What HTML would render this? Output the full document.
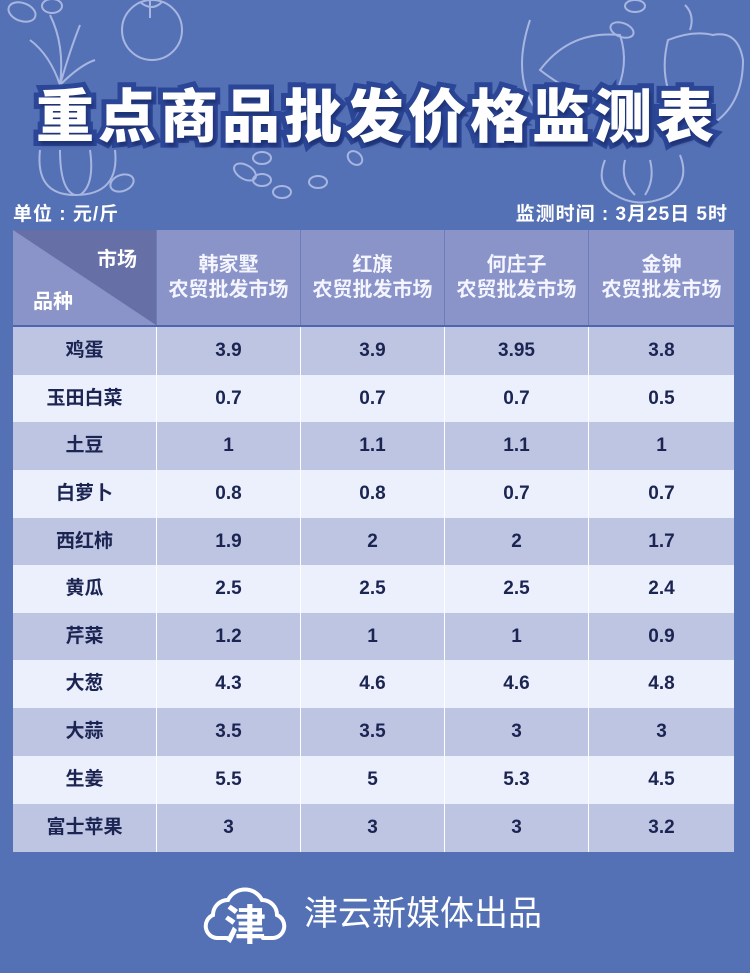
<!DOCTYPE html>
<html><head><meta charset="utf-8">
<style>
*{margin:0;padding:0;box-sizing:border-box}
html,body{width:750px;height:973px;overflow:hidden;background:#5571b6}
body{position:relative;font-family:"Liberation Sans","Noto Sans CJK SC",sans-serif}
.abs{position:absolute}
.title{position:absolute;left:0;top:85px;width:750px;text-align:center;font-size:58px;font-weight:900;letter-spacing:4px;color:#fff;
 -webkit-text-stroke:10px #2c4697;paint-order:stroke fill;text-shadow:2px 4px 3px rgba(20,35,90,.55);white-space:nowrap;padding-left:4px;line-height:66px}
.sub{position:absolute;top:202px;font-size:19px;font-weight:bold;color:#fff;line-height:26px;white-space:nowrap;letter-spacing:1px}
.hc{position:absolute;top:230px;height:95px;background:#8a94c9;color:#f4f5ff;font-size:20px;font-weight:bold;text-align:center;line-height:25px;padding-top:23px;border-left:1px solid #6f7cbb}
.row{position:absolute;left:13px;width:721px}
.cell{position:absolute;top:0;height:100%;text-align:center;font-size:19px;font-weight:bold;color:#1c2552;border-left:1px solid #fff}
</style></head><body>
<svg class="abs" style="left:0;top:0" width="750" height="230" viewBox="0 0 750 230" fill="none" stroke="#c3cdf0" stroke-width="2" opacity="0.75">
 <ellipse cx="22" cy="12" rx="14" ry="9" transform="rotate(20 22 12)"/>
 <ellipse cx="52" cy="6" rx="10" ry="7"/>
 <circle cx="152" cy="30" r="30"/>
 <path d="M140 2 q12 10 22 0 M150 0 v18"/>
 <path d="M60 85 q5 -40 -10 -70 M60 85 q10 -35 20 -60 M60 85 q-10 -30 -30 -45 M60 85 q20 -20 35 -25"/>
 <path d="M40 150 q-5 45 35 45 q45 0 40 -45"/>
 <path d="M60 150 q0 40 15 45 M90 150 q5 35 -10 45"/>
 <ellipse cx="122" cy="183" rx="12" ry="8" transform="rotate(-20 122 183)"/>
 <ellipse cx="245" cy="172" rx="12" ry="7" transform="rotate(30 245 172)"/>
 <ellipse cx="262" cy="158" rx="9" ry="6"/>
 <ellipse cx="262" cy="180" rx="9" ry="6"/>
 <ellipse cx="282" cy="192" rx="9" ry="6"/>
 <ellipse cx="318" cy="182" rx="9" ry="6"/>
 <ellipse cx="355" cy="158" rx="8" ry="6" transform="rotate(40 355 158)"/>
 <path d="M530 20 q-20 60 10 95 q30 25 60 20"/>
 <path d="M540 70 q30 -40 80 -35 q10 30 -5 60 q-30 10 -75 -25z"/>
 <ellipse cx="622" cy="30" rx="12" ry="7" transform="rotate(20 622 30)"/>
 <ellipse cx="635" cy="6" rx="10" ry="6"/>
 <path d="M668 40 q-10 40 10 70 q20 20 40 10 q25 -20 25 -60 q-5 -30 -30 -25 q-20 -5 -45 5z"/>
 <path d="M690 30 q5 -15 -5 -25"/>
 <path d="M605 160 q-10 25 10 35 q25 15 55 0 q20 -15 10 -40"/>
 <path d="M625 160 q-5 20 10 35 M650 160 q5 20 -5 35"/>
</svg>

<div class="title">重点商品批发价格监测表</div>

<div class="sub" style="left:13px">单位 : 元/斤</div>
<div class="sub" style="right:22px">监测时间 : 3月25日 5时</div>

<div class="abs" style="left:13px;top:230px;width:143px;height:95px;background:#8a94c9;overflow:hidden">
 <svg width="143" height="95" class="abs" style="left:0;top:0"><polygon points="0,0 143,0 143,95" fill="#666fa6"/></svg>
 <div class="abs" style="left:84px;top:13px;color:#fff;font-size:20px;font-weight:bold">市场</div>
 <div class="abs" style="left:20px;top:55px;color:#fff;font-size:20px;font-weight:bold">品种</div>
</div>
<div class="hc" style="left:156px;width:144px">韩家墅<br>农贸批发市场</div>
<div class="hc" style="left:300px;width:144px">红旗<br>农贸批发市场</div>
<div class="hc" style="left:444px;width:144px">何庄子<br>农贸批发市场</div>
<div class="hc" style="left:588px;width:146px">金钟<br>农贸批发市场</div>
<div class="abs" style="left:13px;top:325px;width:721px;height:2px;background:#4d66ad"></div>

<div class="row" style="top:327px;height:48px;background:#bdc5e3;line-height:48px"><div class="cell" style="left:0;width:143px;border-left:none">鸡蛋</div><div class="cell" style="left:143px;width:144px">3.9</div><div class="cell" style="left:287px;width:144px">3.9</div><div class="cell" style="left:431px;width:144px">3.95</div><div class="cell" style="left:575px;width:146px">3.8</div></div>
<div class="row" style="top:375px;height:47px;background:#ebf0fc;line-height:47px"><div class="cell" style="left:0;width:143px;border-left:none">玉田白菜</div><div class="cell" style="left:143px;width:144px">0.7</div><div class="cell" style="left:287px;width:144px">0.7</div><div class="cell" style="left:431px;width:144px">0.7</div><div class="cell" style="left:575px;width:146px">0.5</div></div>
<div class="row" style="top:422px;height:48px;background:#bdc5e3;line-height:48px"><div class="cell" style="left:0;width:143px;border-left:none">土豆</div><div class="cell" style="left:143px;width:144px">1</div><div class="cell" style="left:287px;width:144px">1.1</div><div class="cell" style="left:431px;width:144px">1.1</div><div class="cell" style="left:575px;width:146px">1</div></div>
<div class="row" style="top:470px;height:48px;background:#ebf0fc;line-height:48px"><div class="cell" style="left:0;width:143px;border-left:none">白萝卜</div><div class="cell" style="left:143px;width:144px">0.8</div><div class="cell" style="left:287px;width:144px">0.8</div><div class="cell" style="left:431px;width:144px">0.7</div><div class="cell" style="left:575px;width:146px">0.7</div></div>
<div class="row" style="top:518px;height:47px;background:#bdc5e3;line-height:47px"><div class="cell" style="left:0;width:143px;border-left:none">西红柿</div><div class="cell" style="left:143px;width:144px">1.9</div><div class="cell" style="left:287px;width:144px">2</div><div class="cell" style="left:431px;width:144px">2</div><div class="cell" style="left:575px;width:146px">1.7</div></div>
<div class="row" style="top:565px;height:48px;background:#ebf0fc;line-height:48px"><div class="cell" style="left:0;width:143px;border-left:none">黄瓜</div><div class="cell" style="left:143px;width:144px">2.5</div><div class="cell" style="left:287px;width:144px">2.5</div><div class="cell" style="left:431px;width:144px">2.5</div><div class="cell" style="left:575px;width:146px">2.4</div></div>
<div class="row" style="top:613px;height:47px;background:#bdc5e3;line-height:47px"><div class="cell" style="left:0;width:143px;border-left:none">芹菜</div><div class="cell" style="left:143px;width:144px">1.2</div><div class="cell" style="left:287px;width:144px">1</div><div class="cell" style="left:431px;width:144px">1</div><div class="cell" style="left:575px;width:146px">0.9</div></div>
<div class="row" style="top:660px;height:48px;background:#ebf0fc;line-height:48px"><div class="cell" style="left:0;width:143px;border-left:none">大葱</div><div class="cell" style="left:143px;width:144px">4.3</div><div class="cell" style="left:287px;width:144px">4.6</div><div class="cell" style="left:431px;width:144px">4.6</div><div class="cell" style="left:575px;width:146px">4.8</div></div>
<div class="row" style="top:708px;height:48px;background:#bdc5e3;line-height:48px"><div class="cell" style="left:0;width:143px;border-left:none">大蒜</div><div class="cell" style="left:143px;width:144px">3.5</div><div class="cell" style="left:287px;width:144px">3.5</div><div class="cell" style="left:431px;width:144px">3</div><div class="cell" style="left:575px;width:146px">3</div></div>
<div class="row" style="top:756px;height:48px;background:#ebf0fc;line-height:48px"><div class="cell" style="left:0;width:143px;border-left:none">生姜</div><div class="cell" style="left:143px;width:144px">5.5</div><div class="cell" style="left:287px;width:144px">5</div><div class="cell" style="left:431px;width:144px">5.3</div><div class="cell" style="left:575px;width:146px">4.5</div></div>
<div class="row" style="top:804px;height:48px;background:#bdc5e3;line-height:48px"><div class="cell" style="left:0;width:143px;border-left:none">富士苹果</div><div class="cell" style="left:143px;width:144px">3</div><div class="cell" style="left:287px;width:144px">3</div><div class="cell" style="left:431px;width:144px">3</div><div class="cell" style="left:575px;width:146px">3.2</div></div>

<svg class="abs" style="left:203px;top:876px" width="84" height="76" viewBox="0 0 84 76">
 <path d="M24 62 H14 a12 12 0 0 1 -4 -23 a15 15 0 0 1 15 -15 a19 19 0 0 1 34 0 a15 15 0 0 1 15 15 a12 12 0 0 1 -4 23 H60" fill="none" stroke="#fff" stroke-width="4" stroke-linecap="round"/>
 <text x="42" y="64" text-anchor="middle" font-size="42" font-weight="bold" fill="#fff" font-family="Liberation Sans, Noto Sans CJK SC, sans-serif">津</text>
</svg>
<div class="abs" style="left:304px;top:892px;font-size:34px;color:#fff;line-height:44px">津云新媒体出品</div>
</body></html>
